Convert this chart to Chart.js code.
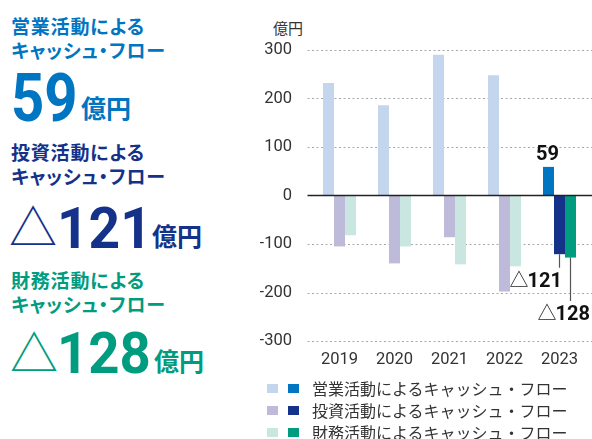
<!DOCTYPE html>
<html lang="ja">
<head>
<meta charset="utf-8">
<script src="https://cdn.jsdelivr.net/npm/chart.js@4"></script>
<style>
    html, body { margin: 0; padding: 0; background: #fff; }
    body { width: 592px; height: 439px; position: relative; overflow: hidden; font-family: "Noto Sans CJK JP", sans-serif; }
    .abs { position: absolute; white-space: nowrap; }
    .head { font-size: 19px; font-weight: 700; line-height: 24px; font-feature-settings: "palt"; letter-spacing: 0.8px; }
    .num { font-family: Roboto, sans-serif; font-weight: 700; line-height: 1; transform-origin: left center; }
    .unit { font-size: 25px; font-weight: 700; line-height: 1; }
    .tri { font-size: 48px; font-weight: 400; line-height: 1; }
    .blue { color: #0075c2; }
    .navy { color: #14328a; }
    .teal { color: #009c80; }
    #chartBox { position: absolute; left: 260px; top: 0; width: 332px; height: 439px; }
    .legend-row { position: absolute; left: 267px; height: 20px; display: flex; align-items: center; font-size: 16px; color: #333; }
    .sw { width: 11px; height: 9px; margin-right: 10px; }
    .legend-row span.txt { margin-left: 3px; }
</style>
</head>
<body>
<div class="abs head blue" style="left:11px; top:14px;">営業活動による<br>キャッシュ・フロー</div>
<div class="abs num blue" style="left:11px; top:66px; font-size:66px; transform:scaleX(0.88);">59</div>
<div class="abs unit blue" style="left:81px; top:95px;">億円</div>

<div class="abs head navy" style="left:11px; top:140px;">投資活動による<br>キャッシュ・フロー</div>
<div class="abs tri navy" style="left:9px; top:200px;">△</div>
<div class="abs num navy" style="left:57px; top:199px; font-size:58px; transform:scaleX(0.95);">121</div>
<div class="abs unit navy" style="left:152px; top:223px;">億円</div>

<div class="abs head teal" style="left:11px; top:268px;">財務活動による<br>キャッシュ・フロー</div>
<div class="abs tri teal" style="left:10px; top:326px;">△</div>
<div class="abs num teal" style="left:57px; top:324px; font-size:58px; transform:scaleX(0.94);">128</div>
<div class="abs unit teal" style="left:154px; top:348px;">億円</div>

<div class="abs" style="left:273px; top:19px; font-size:15px; line-height:18px; color:#333;">億円</div>

<div id="chartBox"><canvas id="cfChart" width="332" height="439"></canvas></div>

<div class="legend-row" style="top:378px;"><div class="sw" style="background:#c4d5ee"></div><div class="sw" style="background:#0075c2"></div><span class="txt">営業活動によるキャッシュ・フロー</span></div>
<div class="legend-row" style="top:400px;"><div class="sw" style="background:#bdbada"></div><div class="sw" style="background:#14328a"></div><span class="txt">投資活動によるキャッシュ・フロー</span></div>
<div class="legend-row" style="top:422px;"><div class="sw" style="background:#c9e6e0"></div><div class="sw" style="background:#009c80"></div><span class="txt">財務活動によるキャッシュ・フロー</span></div>

<script>
// data (億円)
const years = ['2019', '2020', '2021', '2022', '2023'];
const operatingCF = [232, 186, 290, 248, 59];
const investingCF = [-105, -140, -86, -198, -121];
const financingCF = [-82, -105, -142, -146, -128];
const yTicks = [-300, -200, -100, 0, 100, 200, 300];

const lightColors = ['#c4d5ee', '#bdbada', '#c9e6e0'];
const darkColors = ['#0075c2', '#14328a', '#009c80'];

// last year is drawn in the dark shade
function shade(i) {
    return years.map((y, k) => k === years.length - 1 ? darkColors[i] : lightColors[i]);
}

const gridPlugin = {
    id: 'cfGrid',
    beforeDatasetsDraw(chart) {
        const ctx = chart.ctx;
        const y = chart.scales.y;
        ctx.save();
        ctx.strokeStyle = '#a8a8a8';
        ctx.lineWidth = 1;
        ctx.setLineDash([2, 2.5]);
        yTicks.forEach(v => {
            if (v === 0) return;
            const py = Math.round(y.getPixelForValue(v)) + 0.5;
            ctx.beginPath();
            ctx.moveTo(47.5, py);
            ctx.lineTo(chart.width, py);
            ctx.stroke();
        });
        ctx.restore();
    },
    afterDatasetsDraw(chart) {
        const ctx = chart.ctx;
        const y = chart.scales.y;
        ctx.save();
        // zero line
        const py0 = y.getPixelForValue(0);
        ctx.strokeStyle = '#222';
        ctx.lineWidth = 1.5;
        ctx.beginPath();
        ctx.moveTo(47.5, py0);
        ctx.lineTo(chart.width, py0);
        ctx.stroke();

        const last = years.length - 1;
        const op = chart.getDatasetMeta(0).data[last];
        const inv = chart.getDatasetMeta(1).data[last];
        const fin = chart.getDatasetMeta(2).data[last];

        ctx.fillStyle = '#111';
        ctx.font = 'bold 20px Roboto';
        ctx.textAlign = 'center';
        ctx.textBaseline = 'alphabetic';
        ctx.fillText(String(operatingCF[last]), op.x - 1, op.y - 6.5);

        // leader lines
        ctx.strokeStyle = '#555';
        ctx.lineWidth = 1.2;
        ctx.beginPath();
        ctx.moveTo(inv.x, inv.y);
        ctx.lineTo(inv.x, inv.y + 13.5);
        ctx.moveTo(fin.x, fin.y);
        ctx.lineTo(fin.x, fin.y + 43.5);
        ctx.stroke();

        drawNeg(ctx, Math.abs(investingCF[last]), inv.x + 2.5, inv.y + 32.5);
        drawNeg(ctx, Math.abs(financingCF[last]), fin.x + 19.5, fin.y + 62);
        ctx.restore();
    }
};

// "△" + number, right aligned at x
function drawNeg(ctx, value, x, baseline) {
    ctx.textAlign = 'right';
    ctx.textBaseline = 'alphabetic';
    ctx.fillStyle = '#111';
    ctx.font = 'bold 20px Roboto';
    const txt = String(value);
    ctx.fillText(txt, x, baseline);
    const w = ctx.measureText(txt).width;
    ctx.font = '19px "Noto Sans CJK JP"';
    ctx.fillStyle = '#222';
    ctx.fillText('△', x - w + 1, baseline);
}

const ctx = document.getElementById('cfChart').getContext('2d');
new Chart(ctx, {
    type: 'bar',
    data: {
        labels: years,
        datasets: [
            { label: '営業活動によるキャッシュ・フロー', data: operatingCF, backgroundColor: shade(0) },
            { label: '投資活動によるキャッシュ・フロー', data: investingCF, backgroundColor: shade(1) },
            { label: '財務活動によるキャッシュ・フロー', data: financingCF, backgroundColor: shade(2) }
        ]
    },
    options: {
        responsive: false,
        devicePixelRatio: 1,
        animation: false,
        layout: { padding: { top: 50, right: 5, left: 0, bottom: 0 } },
        datasets: {
            bar: { categoryPercentage: 0.6, barPercentage: 1.0 }
        },
        plugins: {
            legend: { display: false },
            tooltip: { enabled: false }
        },
        scales: {
            x: {
                grid: { display: false },
                border: { display: false },
                ticks: {
                    color: '#333',
                    font: { family: 'Roboto', size: 16.5 },
                    padding: 1,
                    maxRotation: 0
                },
                afterFit(s) { s.height = 98; }
            },
            y: {
                min: -300,
                max: 300,
                grid: { display: false },
                border: { display: false },
                afterBuildTicks(s) { s.ticks = yTicks.map(v => ({ value: v })); },
                ticks: {
                    color: '#333',
                    font: { family: 'Roboto', size: 16.5 },
                    padding: 12
                },
                afterFit(s) { s.width = 52; }
            }
        }
    },
    plugins: [gridPlugin]
});
</script>
</body>
</html>
